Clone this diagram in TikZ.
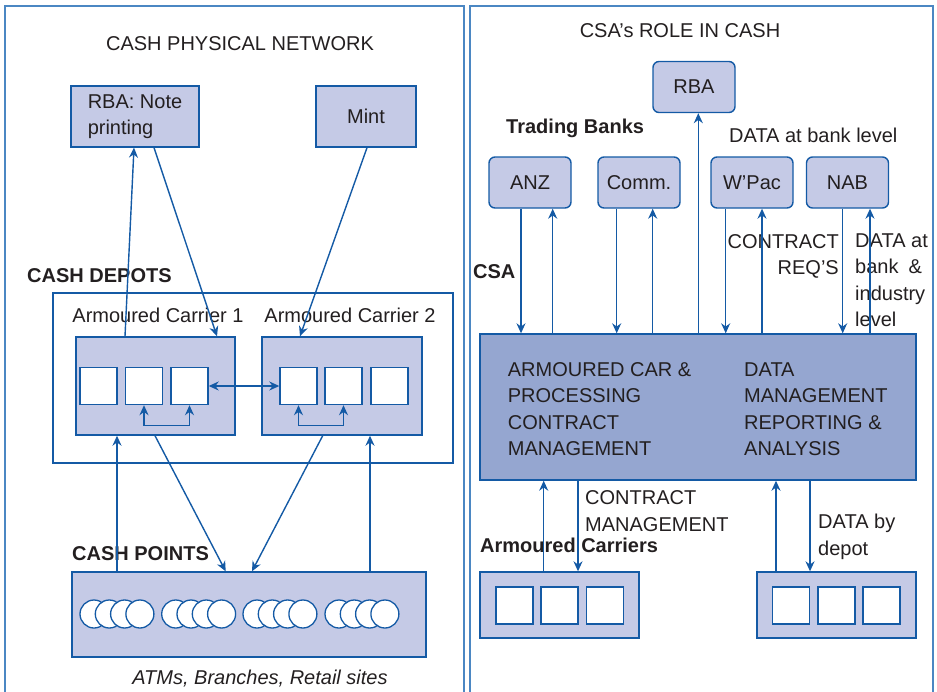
\documentclass[tikz,border=0pt]{standalone}
\usepackage{fontspec}
\setmainfont{Liberation Sans}
\usetikzlibrary{arrows.meta}
\definecolor{lineblue}{RGB}{20,90,165}
\definecolor{panelblue}{RGB}{75,135,195}
\definecolor{lilac}{RGB}{197,202,230}
\definecolor{lilacdark}{RGB}{149,166,208}
\definecolor{ink}{RGB}{35,31,32}

\begin{document}
\begin{tikzpicture}[x=1pt,y=-1pt,
  every node/.style={text=ink,font=\fontsize{20}{26.5}\selectfont},
  box/.style={draw=lineblue,fill=lilac,line width=1.4pt,inner sep=0pt},
  bank/.style={box,rounded corners=6pt,minimum width=82pt,minimum height=51pt},
  cell/.style={draw=lineblue,fill=white,line width=1.4pt,minimum size=37pt,inner sep=0pt},
  tip/.tip={Stealth[length=10pt,width=9pt]},
  arr/.style={draw=lineblue,line width=1.4pt,-tip},
  both/.style={arr,tip-tip},
  lbl/.style={anchor=west,align=left,inner sep=0pt},
  head/.style={anchor=west,inner sep=0pt,font=\fontsize{20}{24}\selectfont\bfseries}]
  \clip (0,0) rectangle (937,691);
  % two panels
  \draw[panelblue,line width=1.5pt] (5,6) rectangle (464,700);
  \draw[panelblue,line width=1.5pt] (470,6) rectangle (933,700);

  % ---- left: cash physical network ----
  \node (title1) at (240,44) {CASH PHYSICAL NETWORK};
  \node[box,minimum width=128pt,minimum height=61pt,align=left] (rbaL) at (135,116.5) {RBA: Note\\printing};
  \node[box,minimum width=100pt,minimum height=61pt] (mint) at (366,116.5) {Mint};

  \node[head] (depots) at (27,276) {CASH DEPOTS};
  \node[draw=lineblue,line width=1.4pt,minimum width=400pt,minimum height=170pt] (depotbox) at (253,378) {};
  \node (ac1) at (158,315) {Armoured Carrier 1};
  \node (ac2) at (350,315) {Armoured Carrier 2};
  \node[box,minimum width=159pt,minimum height=98pt] (car1) at (155.5,386) {};
  \node[box,minimum width=160pt,minimum height=98pt] (car2) at (342,386) {};
  \foreach \x [count=\i] in {98.5,144,189.5}
    \node[cell] (c1\i) at (\x,386) {};
  \foreach \x [count=\i] in {298.5,343.5,389.5}
    \node[cell] (c2\i) at (\x,386) {};
  \draw[both] (c13.east) -- (c21.west);
  \draw[both] (c12.south) -- ([yshift=-20pt]c12.south) -| (c13.south);
  \draw[both] (c21.south) -- ([yshift=-20pt]c21.south) -| (c22.south);

  \node[head] (points) at (72,554) {CASH POINTS};
  \node[box,minimum width=354pt,minimum height=85pt] (pointbox) at (249,614.5) {};
  % ATMs drawn as overlapping discs
  \foreach \g in {94,175.7,257,339}
    \foreach \k in {0,...,3}
      \draw[lineblue,fill=white,line width=1.3pt] (\g+15.3*\k,614) circle (14);
  \node[font=\fontsize{20}{24}\selectfont\itshape] (sites) at (260,679) {ATMs, Branches, Retail sites};

  \draw[arr] ([xshift=-30.5pt]car1.north) -- ([xshift=-1pt]rbaL.south);
  \draw[arr] ([xshift=19pt]rbaL.south) -- ([xshift=61.5pt]car1.north);
  \draw[arr] ([xshift=1pt]mint.south) -- ([xshift=-42pt]car2.north);
  \draw[arr] ([xshift=-132pt]pointbox.north) -- ([xshift=-132pt]pointbox.north |- car1.south);
  \draw[arr] ([xshift=-0.5pt]car1.south) -- ([xshift=-23.3pt]pointbox.north);
  \draw[arr] ([xshift=-19.3pt]car2.south) -- ([xshift=3pt]pointbox.north);
  \draw[arr] ([xshift=121pt]pointbox.north) -- ([xshift=121pt]pointbox.north |- car2.south);

  % ---- right: CSA's role ----
  \node (title2) at (680,31) {CSA’s ROLE IN CASH};
  \node[bank] (rbaR) at (694,87) {RBA};
  \node[head] (trading) at (506,128) {Trading Banks};
  \node[lbl] (banklevel) at (729,135) {DATA at bank level};
  \node[bank] (anz) at (530,182.5) {ANZ};
  \node[bank] (comm) at (639,182.5) {Comm.};
  \node[bank] (wpac) at (752,182.5) {W’Pac};
  \node[bank] (nab) at (847.5,182.5) {NAB};

  \node[box,fill=lilacdark,minimum width=436pt,minimum height=146pt] (csa) at (698,407) {};
  \node[lbl] (contract) at (507.7,409) {ARMOURED CAR \&\\PROCESSING\\CONTRACT\\MANAGEMENT};
  \node[lbl] (datamgmt) at (744,409) {DATA\\MANAGEMENT\\REPORTING \&\\ANALYSIS};

  \node[head] (csalbl) at (473,272) {CSA};
  \node[anchor=east,align=right,inner sep=0pt] (req) at (839,256.5) {CONTRACT\\REQ’S};
  \node[lbl] (industry) at (855,280) {DATA at\\bank\hspace{0.5em}\&\\industry\\level};

  \draw[arr] ([xshift=-9pt]anz.south) -- ([xshift=-9pt]anz.south |- csa.north);
  \draw[arr] ([xshift=22.7pt]anz.south |- csa.north) -- ([xshift=22.7pt]anz.south);
  \draw[arr] ([xshift=-22.3pt]comm.south) -- ([xshift=-22.3pt]comm.south |- csa.north);
  \draw[arr] ([xshift=13.7pt]comm.south |- csa.north) -- ([xshift=13.7pt]comm.south);
  \draw[arr] ([xshift=4.3pt]rbaR.south |- csa.north) -- ([xshift=4.3pt]rbaR.south);
  \draw[arr] ([xshift=-26.3pt]wpac.south) -- ([xshift=-26.3pt]wpac.south |- csa.north);
  \draw[arr] ([xshift=10pt]wpac.south |- csa.north) -- ([xshift=10pt]wpac.south);
  \draw[arr] ([xshift=-4.8pt]nab.south) -- ([xshift=-4.8pt]nab.south |- csa.north);
  \draw[arr] ([xshift=22.5pt]nab.south |- csa.north) -- ([xshift=22.5pt]nab.south);

  \node[box,minimum width=159pt,minimum height=66pt] (acbox) at (559.5,605) {};
  \node[box,minimum width=159pt,minimum height=66pt] (dpbox) at (836.3,605) {};
  \foreach \x [count=\i] in {514.5,559.5,605}
    \node[cell] (a\i) at (\x,605.3) {};
  \foreach \x [count=\i] in {791,836.5,881.5}
    \node[cell] (d\i) at (\x,605.3) {};
  \node[head] (carriers) at (480,545) {Armoured Carriers};
  \node[lbl] (cmgmt) at (585,511) {CONTRACT\\MANAGEMENT};
  \node[lbl] (bydepot) at (818,537) {DATA by\\depot};

  \draw[arr] ([xshift=-15.8pt]acbox.north) -- ([xshift=-15.8pt]acbox.north |- csa.south);
  \draw[arr] ([xshift=18.5pt]acbox.north |- csa.south) -- ([xshift=18.5pt]acbox.north);
  \draw[arr] ([xshift=-60.3pt]dpbox.north) -- ([xshift=-60.3pt]dpbox.north |- csa.south);
  \draw[arr] ([xshift=-26.3pt]dpbox.north |- csa.south) -- ([xshift=-26.3pt]dpbox.north);
\end{tikzpicture}
\end{document}
